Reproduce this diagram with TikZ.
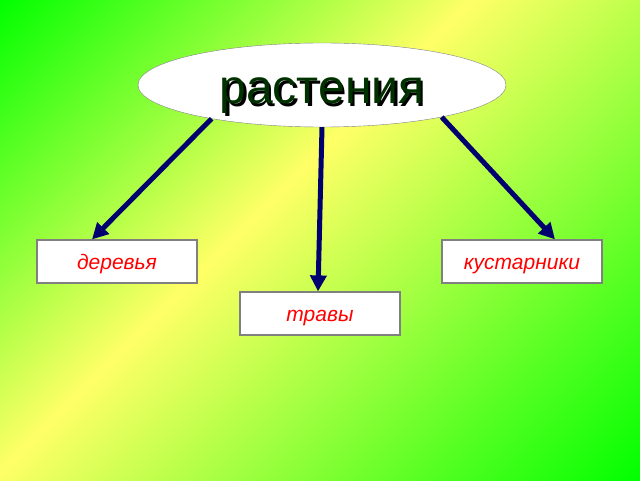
\documentclass[tikz,border=0pt]{standalone}
\usepackage{fontspec}
\setmainfont{Liberation Sans}
\usetikzlibrary{arrows.meta,shapes.geometric}
\definecolor{bggreen}{RGB}{0,255,0}
\definecolor{bgyellow}{RGB}{255,255,102}
\definecolor{arrownavy}{RGB}{0,0,110}
\definecolor{titlegreen}{RGB}{0,50,0}
\pgfdeclareverticalshading{bgband}{100bp}{color(0bp)=(bggreen); color(25bp)=(bggreen); color(53.9bp)=(bgyellow); color(75bp)=(bggreen); color(100bp)=(bggreen)}
\begin{document}
\begin{tikzpicture}[x=1pt,y=1pt,
		word/.style={draw=gray, line width=1.2pt, fill=white, minimum width=160pt, minimum height=43pt, inner sep=0pt, text height=17pt, text depth=1pt, text=red, font=\itshape\fontsize{21}{21}\selectfont},
		link/.style={draw=arrownavy, line width=5pt, -{Triangle[length=16pt,width=16pt]}}]
		\useasboundingbox (0,0) rectangle (640,480);
		\begin{scope}
			\clip (0,0) rectangle (640,480);
			\shade[shading=bgband, shading angle=45] (-80,-160) rectangle (720,640);
		\end{scope}
		\node[ellipse, draw=gray, fill=white, minimum width=368pt, minimum height=84pt, inner sep=0pt] (plants) at (322,395) {};
		\node[anchor=base, text=black, font=\fontsize{48}{48}\selectfont] (plantsshadow) at (324.5,373.5) {растения};
		\node[anchor=base, text=titlegreen, font=\fontsize{48}{48}\selectfont] (plantstitle) at (322,376) {растения};
		\node[word] (trees) at (117,218.5) {деревья};
		\node[word] (grass) at (320,166.5) {травы};
		\node[word] (shrubs) at (522,218.5) {кустарники};
		\draw[link] (plants.197) -- ([xshift=-25pt]trees.north);
		\draw[link] (plants.south) -- ([xshift=-2pt]grass.north);
		\draw[link] (plants.-15) -- ([xshift=33pt]shrubs.north);
	\end{tikzpicture}
\end{document}
